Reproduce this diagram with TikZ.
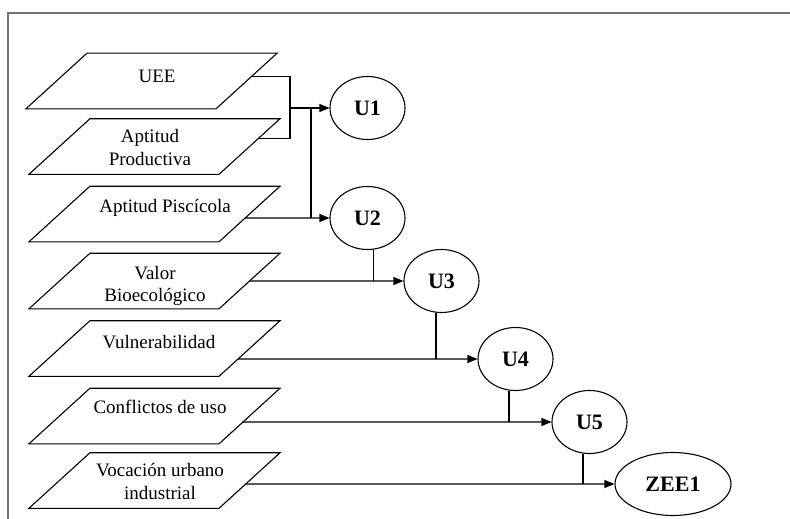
\documentclass[tikz,border=0pt]{standalone}
\usepackage{fontspec}
\setmainfont{Liberation Serif}
\usetikzlibrary{shapes.geometric,arrows.meta,calc}
\begin{document}
\begin{tikzpicture}[x=1pt,y=-1pt,
  line width=1.1pt,
  layer/.style={rectangle, minimum width=189pt, minimum height=54.5pt, inner sep=0pt},
  lbl/.style={font=\fontsize{19}{22.5}\selectfont, align=center, inner sep=0pt},
  unit/.style={ellipse, draw, minimum width=75pt, minimum height=63pt, inner sep=0pt,
    font=\fontsize{22}{24}\selectfont\bfseries},
  flow/.style={-{Triangle[length=10pt,width=8pt]}},
  frame/.style={draw=black!55, line width=2pt}
]
\useasboundingbox (0,0) rectangle (790,519);

% open frame (top and left sides)
\draw[frame] (790,13) -- (7.5,13) -- (7.5,519);

% input layers: a slanted sheet around each body
\node[layer] (uee) at (151.5,81) {};
\node[layer] (apt) at (154.5,146.5) {};
\node[layer] (pis) at (154.5,214) {};
\node[layer] (val) at (154.5,281) {};
\node[layer] (vul) at (154.5,348.5) {};
\node[layer] (con) at (154.5,416) {};
\node[layer] (voc) at (154.5,480.5) {};
\foreach \n in {uee,apt,pis,val,vul,con,voc}{
  \coordinate (\n-tl) at ([xshift=30.5pt]\n.north west);
  \coordinate (\n-tr) at ([xshift=30.5pt]\n.north east);
  \coordinate (\n-br) at ([xshift=-30.5pt]\n.south east);
  \coordinate (\n-bl) at ([xshift=-30.5pt]\n.south west);
  \draw[line join=miter] (\n-tl) -- (\n-tr) -- (\n-br) -- (\n-bl) -- cycle;
}

\node[lbl, anchor=base] (uee-t) at (157,82) {UEE};
\node[lbl] (apt-t) at (150,147.5) {Aptitud\\Productiva};
\node[lbl, anchor=base] (pis-t) at (165,212) {Aptitud Piscícola};
\node[lbl] (val-t) at (155,286) {Valor\\Bioecológico};
\node[lbl, anchor=base] (vul-t) at (159,348) {Vulnerabilidad};
\node[lbl, anchor=base] (con-t) at (160,413) {Conflictos de uso};
\node[lbl] (voc-t) at (160,481.5) {Vocación urbano\\industrial};

% overlay results
\node[unit] (u1) at (367.5,108) {U1};
\node[unit] (u2) at (367.5,218) {U2};
\node[unit] (u3) at (441.5,281) {U3};
\node[unit] (u4) at (515.5,359) {U4};
\node[unit] (u5) at (589.5,422) {U5};
\node[unit, minimum width=116pt] (zee) at (673,484) {ZEE1};

% UEE + Aptitud Productiva -> U1
\coordinate (j1) at (290,108);
\coordinate (j2) at (311,108);
\draw ($(uee-tr)!0.42!(uee-br)$) -| (j1) |- ($(apt-tr)!0.36!(apt-br)$);
\draw[flow] (j1) -- (u1);
\draw (j2) -- (j2 |- u2);

% Aptitud Piscicola -> U2
\draw[flow] (intersection of pis-tr--pis-br and u2.west--u2.east) -- (u2);

% U2 + Valor Bioecologico -> U3
\draw ([xshift=6pt]u2.south) -- ([xshift=6pt]u2.south |- u3);
\draw[flow] (intersection of val-tr--val-br and u3.west--u3.east) -- (u3);

% U3 + Vulnerabilidad -> U4
\draw ([xshift=-5.5pt]u3.south) -- ([xshift=-5.5pt]u3.south |- u4);
\draw[flow] (intersection of vul-tr--vul-br and u4.west--u4.east) -- (u4);

% U4 + Conflictos de uso -> U5
\draw ([xshift=-6.5pt]u4.south) -- ([xshift=-6.5pt]u4.south |- u5);
\draw[flow] (intersection of con-tr--con-br and u5.west--u5.east) -- (u5);

% U5 + Vocacion urbano industrial -> ZEE1
\draw ([xshift=-6.5pt]u5.south) -- ([xshift=-6.5pt]u5.south |- zee);
\draw[flow] (intersection of voc-tr--voc-br and zee.west--zee.east) -- (zee);
\end{tikzpicture}
\end{document}
